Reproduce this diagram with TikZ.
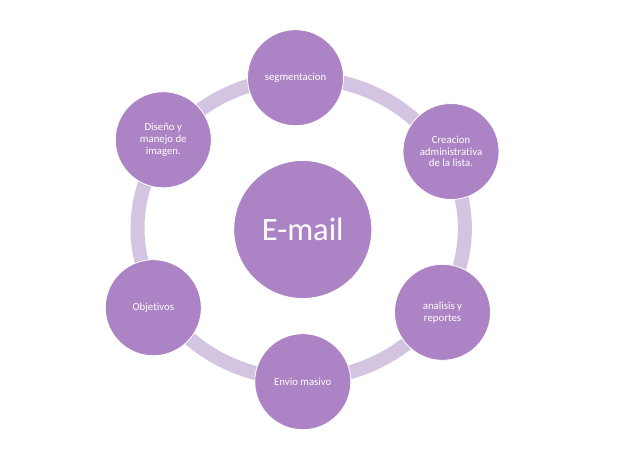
\documentclass[tikz,border=0pt]{standalone}
\usepackage{fontspec}
\setmainfont{Carlito}[RawFeature=-liga]
\definecolor{nodefill}{RGB}{172,131,196}
\definecolor{ringfill}{RGB}{211,196,225}

\begin{document}
\begin{tikzpicture}[x=1pt, y=-1pt,
    item/.style={circle, fill=nodefill, draw=white, line width=0.8pt, minimum size=96pt, inner sep=0pt, align=center, text=white, font=\fontsize{10.8}{11.7}\selectfont},
    hub/.style={circle, fill=nodefill, draw=white, line width=0.8pt, minimum size=138pt, inner sep=0pt, text=white, font=\fontsize{32.5}{36}\selectfont}]
                \useasboundingbox (0,0) rectangle (632,471);

                % ring behind the items
                \draw[ringfill, line width=14pt] (301.2,228.4) ellipse [x radius=163.7, y radius=150.6];

                \node[hub] (email) at (302.8, 229.5) {E-mail};

                \node[item] (seg) at (295.5, 77.7) {segmentacion};
                \node[item] (lista) at (451, 151.5) {Creacion\\administrativa\\de la lista.};
                \node[item] (reportes) at (442.5, 312.3) {analisis y\\reportes};
                \node[item] (envio) at (302.8, 381.7) {Envio masivo};
                \node[item] (obj) at (153.3, 307.7) {Objetivos};
                \node[item] (diseno) at (163.3, 139.8) {Diseño y\\manejo de\\imagen.};

            \end{tikzpicture}
\end{document}
